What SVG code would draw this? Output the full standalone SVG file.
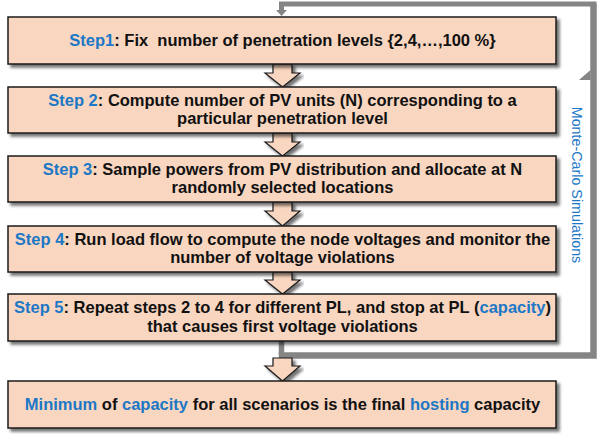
<svg xmlns="http://www.w3.org/2000/svg" width="597" height="434" viewBox="0 0 597 434">
<defs>
<filter id="sh" x="-5%" y="-20%" width="115%" height="150%">
<feDropShadow dx="3" dy="3" stdDeviation="1.5" flood-color="#000" flood-opacity="0.55"/>
</filter>
</defs>
<style>
.box{fill:#F9D6C0;stroke:#1a1a1a;stroke-width:1.5;filter:url(#sh)}
.arr{fill:#F9D6C0;stroke:#1a1a1a;stroke-width:1.2;stroke-linejoin:miter;filter:url(#sh)}
.t{font-family:"Liberation Sans",Arial,sans-serif;font-weight:bold;font-size:16.5px;fill:#111;text-anchor:middle;white-space:pre}
.b{fill:#1C78C6}
.loop{fill:none;stroke:#858585}
.mc{font-family:"Liberation Sans",Arial,sans-serif;font-size:14.3px;fill:#1C78C6;text-anchor:middle}
</style>
<rect width="597" height="434" fill="#fff"/>
<g id="connectors">
<polyline class="loop" stroke-width="5.5" points="281.5,341 281.5,355"/>
<polyline class="loop" stroke-width="6.5" points="278.8,355.5 593.5,355.5 593.5,4"/>
<polyline class="loop" stroke-width="5" points="596.5,4 281.5,4 281.5,11"/>
<polygon fill="#858585" points="276,10 287,10 281.5,16"/>
<polygon fill="#858585" points="579,80 590.5,70 590.5,80"/>
<polygon class="arr" points="273,64 292,64 292,73 300,73 282.5,87 265,73 273,73"/>
<polygon class="arr" points="273,133 292,133 292,142 300,142 282.5,156 265,142 273,142"/>
<polygon class="arr" points="273,202 292,202 292,211 300,211 282.5,226 265,211 273,211"/>
<polygon class="arr" points="273,272 292,272 292,280 300,280 282.5,294 265,280 273,280"/>
<polygon class="arr" points="273,358 292,358 292,366 300,366 282.5,381 265,366 273,366"/>
</g>
<g id="step1">
<rect class="box" x="8" y="17" width="548" height="47"/>
<text class="t" x="282.5" y="46"><tspan class="b">Step1</tspan>: Fix  number of penetration levels {2,4,…,100 %}</text>
</g>
<g id="step2">
<rect class="box" x="8" y="87" width="548" height="46"/>
<text class="t" x="282.5" y="106"><tspan class="b">Step 2</tspan>: Compute number of PV units (N) corresponding to a</text>
<text class="t" x="282.5" y="124">particular penetration level</text>
</g>
<g id="step3">
<rect class="box" x="8" y="156" width="548" height="46"/>
<text class="t" x="282.5" y="175"><tspan class="b">Step 3</tspan>: Sample powers from PV distribution and allocate at N</text>
<text class="t" x="282.5" y="193">randomly selected locations</text>
</g>
<g id="step4">
<rect class="box" x="8" y="226" width="548" height="46"/>
<text class="t" x="282.5" y="245"><tspan class="b">Step 4</tspan>: Run load flow to compute the node voltages and monitor the</text>
<text class="t" x="282.5" y="263">number of voltage violations</text>
</g>
<g id="step5">
<rect class="box" x="8" y="294" width="548" height="47"/>
<text class="t" x="282.5" y="313"><tspan class="b">Step 5</tspan>: Repeat steps 2 to 4 for different PL, and stop at PL (<tspan class="b">capacity</tspan>)</text>
<text class="t" x="282.5" y="332">that causes first voltage violations</text>
</g>
<g id="final">
<rect class="box" x="8" y="381" width="548" height="47"/>
<text class="t" x="282.5" y="410"><tspan class="b">Minimum</tspan> of <tspan class="b">capacity</tspan> for all scenarios is the final <tspan class="b">hosting</tspan> capacity</text>
</g>
<g id="montecarlo">
<text class="mc" transform="translate(572,185) rotate(90)">Monte-Carlo Simulations</text>
</g>
</svg>
